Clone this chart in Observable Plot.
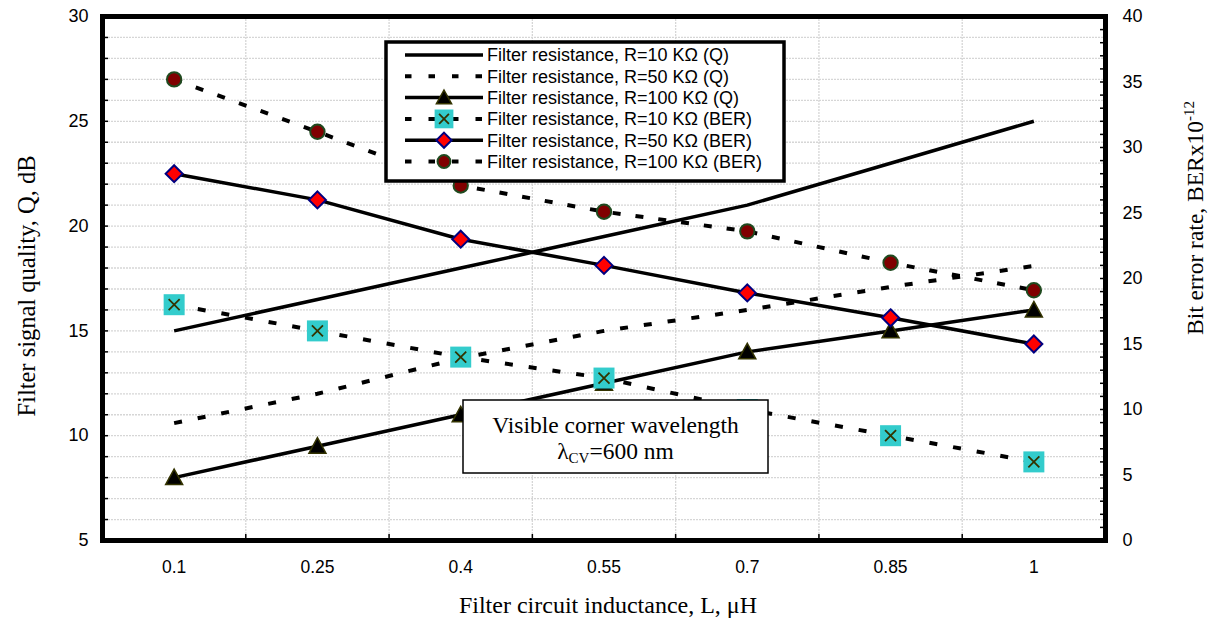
<!DOCTYPE html>
<html><head><meta charset="utf-8">
<script src="https://cdn.jsdelivr.net/npm/d3@7"></script>
<script src="https://cdn.jsdelivr.net/npm/@observablehq/plot@0.6"></script>
<style>body{margin:0;background:#fff}#chart{width:1212px;height:620px}</style>
</head><body><div id="chart"></div>
<script>
// ---- data ----
const inductance = ["0.1", "0.25", "0.4", "0.55", "0.7", "0.85", "1"];
const qR10 = [15, 16.5, 18, 19.5, 21, 23, 25];
const qR50 = [10.6, 12.0, 13.7, 15.0, 16.0, 17.1, 18.1];
const qR100 = [8, 9.5, 11, 12.5, 14, 15, 16];
const berR10 = [18, 16, 14, 12.4, 10, 8, 6];
const berR50 = [28, 26, 23, 21, 18.9, 17, 15];
const berR100 = [35.2, 31.2, 27.1, 25.1, 23.6, 21.2, 19.1];
const qTicks = [5, 10, 15, 20, 25, 30];
const berTicks = [0, 5, 10, 15, 20, 25, 30, 35, 40];
const seriesNames = [
  "Filter resistance, R=10 KΩ (Q)",
  "Filter resistance, R=50 KΩ (Q)",
  "Filter resistance, R=100 KΩ (Q)",
  "Filter resistance, R=10 KΩ (BER)",
  "Filter resistance, R=50 KΩ (BER)",
  "Filter resistance, R=100 KΩ (BER)"
];
const xTitle = "Filter circuit inductance, L, μH";
const yTitle = "Filter signal quality, Q, dB";
const y2Title = "Bit error rate, BERx10";
const y2Sup = "-12";
const noteLine1 = "Visible corner wavelength";
const noteLambda = "λ", noteSub = "CV", noteRest = "=600 nm";

// secondary axis (BER 0..40) mapped onto primary (Q 5..30)
const Q0 = 5, Q1 = 30, B0 = 0, B1 = 40;
const toQ = b => Q0 + (b - B0) * (Q1 - Q0) / (B1 - B0);
const pts = (vals, conv = v => v) => vals.map((v, i) => ({i, y: conv(v)}));

// custom symbols (size = PI r^2)
const rad = s => Math.sqrt(s / Math.PI);
const symTri = {draw(c, s) { const r = rad(s); c.moveTo(0, -r); c.lineTo(r, r * 0.82); c.lineTo(-r, r * 0.82); c.closePath(); }};
const symDia = {draw(c, s) { const r = rad(s); c.moveTo(0, -r); c.lineTo(r, 0); c.lineTo(0, r); c.lineTo(-r, 0); c.closePath(); }};
const symSq = {draw(c, s) { const r = rad(s); c.rect(-r, -r, 2 * r, 2 * r); }};
const symX = {draw(c, s) { const r = rad(s); c.moveTo(-r, -r); c.lineTo(r, r); c.moveTo(r, -r); c.lineTo(-r, r); }};
const symCirc = {draw(c, s) { const r = rad(s); c.moveTo(r, 0); c.arc(0, 0, r, 0, 2 * Math.PI); }};

const markerStyles = {
  tri: [{symbol: symTri, r: 8.5, fill: "#000", stroke: "#333300", strokeWidth: 1.5}],
  sqx: [{symbol: symSq, r: 10.5, fill: "#33cccc", stroke: "none"},
        {symbol: symX, r: 5.5, fill: "none", stroke: "#333300", strokeWidth: 1.8}],
  dia: [{symbol: symDia, r: 8.5, fill: "#ff0000", stroke: "#000080", strokeWidth: 2}],
  circ: [{symbol: symCirc, r: 7.2, fill: "#800000", stroke: "#1f4a1f", strokeWidth: 2}]
};

const series = [
  {data: pts(qR10), dash: null, width: 3.5, marker: null},
  {data: pts(qR50), dash: "8,16", width: 4, marker: null},
  {data: pts(qR100), dash: null, width: 3.5, marker: "tri"},
  {data: pts(berR10, toQ), dash: "8,16", width: 4, marker: "sqx"},
  {data: pts(berR50, toQ), dash: null, width: 3.5, marker: "dia"},
  {data: pts(berR100, toQ), dash: "8,15", width: 4, marker: "circ"}
];

const marks = [
  Plot.ruleY(d3.range(Q0 + 1, Q1), {stroke: "#d6d6d6", strokeWidth: 1.3, strokeDasharray: "2,1"}),
  Plot.ruleX(d3.range(0.5, inductance.length - 1, 1), {stroke: "#d6d6d6", strokeWidth: 1.3, strokeDasharray: "2,1"}),
];
for (const s of series) {
  marks.push(Plot.line(s.data, {x: "i", y: "y", stroke: "#000", strokeWidth: s.width,
    strokeDasharray: s.dash, strokeLinecap: "butt", strokeLinejoin: "round"}));
  if (s.marker) for (const m of markerStyles[s.marker]) marks.push(Plot.dot(s.data, {x: "i", y: "y", ...m}));
}
marks.push(
  // inner ticks
  Plot.axisY({anchor: "left", ticks: d3.range(Q0, Q1 + 1), tickSize: -6, text: null, label: null, strokeWidth: 1.5}),
  Plot.axisY({anchor: "right", ticks: d3.range(B0, B1 + 1).map(toQ), tickSize: -6, text: null, label: null, strokeWidth: 1.5}),
  Plot.axisX({anchor: "bottom", ticks: d3.range(0.5, inductance.length - 1, 1), tickSize: -6, text: null, label: null, strokeWidth: 1.5}),
  // labels
  Plot.axisY({anchor: "left", ticks: qTicks, tickSize: 0, tickPadding: 14, label: null, fontSize: 18}),
  Plot.axisY({anchor: "right", ticks: berTicks.map(toQ), tickFormat: q => String(Math.round(B0 + (q - Q0) * (B1 - B0) / (Q1 - Q0))), tickSize: 0, tickPadding: 17, label: null, fontSize: 18}),
  Plot.axisX({anchor: "bottom", ticks: d3.range(inductance.length), tickFormat: i => inductance[i], tickSize: 0, tickPadding: 20, label: null, fontSize: 17.5}),
  Plot.frame({stroke: "#000", strokeWidth: 5})
);

const plot = Plot.plot({
  width: 1212, height: 620,
  marginLeft: 102, marginRight: 107, marginTop: 16, marginBottom: 80,
  x: {type: "linear", domain: [-0.5, inductance.length - 0.5]},
  y: {domain: [Q0, Q1]},
  style: {fontFamily: "'Liberation Sans', Arial, sans-serif", fontSize: "17px", background: "#fff", color: "#000"},
  marks
});
document.getElementById("chart").append(plot);

// ---- overlays: legend, note, titles ----
const svg = d3.select(plot);
const serif = "'Liberation Serif', 'Times New Roman', serif";

const lg = svg.append("g");
lg.append("rect").attr("x", 386).attr("y", 42).attr("width", 398).attr("height", 139)
  .attr("fill", "#fff").attr("stroke", "#000").attr("stroke-width", 3.5);
seriesNames.forEach((name, k) => {
  const y = 55 + k * 21.3, s = series[k];
  lg.append("line").attr("x1", 405).attr("x2", 483).attr("y1", y).attr("y2", y)
    .attr("stroke", "#000").attr("stroke-width", s.dash ? 4 : 3.5)
    .attr("stroke-dasharray", s.dash ? "6.5,17" : null);
  if (s.marker) for (const m of markerStyles[s.marker]) {
    const p = d3.path(); m.symbol.draw(p, Math.PI * m.r * m.r * 0.8);
    lg.append("path").attr("d", p.toString()).attr("transform", `translate(444,${y})`)
      .attr("fill", m.fill).attr("stroke", m.stroke).attr("stroke-width", m.strokeWidth || 0);
  }
  lg.append("text").attr("x", 487).attr("y", y).attr("dy", "0.35em").attr("text-anchor", "start")
    .attr("font-family", "'Liberation Sans', Arial, sans-serif").attr("font-size", 18).text(name);
});

const note = svg.append("g");
note.append("rect").attr("x", 463).attr("y", 400).attr("width", 305).attr("height", 73)
  .attr("fill", "#fff").attr("stroke", "#000").attr("stroke-width", 1.5);
note.append("text").attr("x", 615.5).attr("y", 433).attr("text-anchor", "middle")
  .attr("font-family", serif).attr("font-size", 23.5).text(noteLine1);
const t2 = note.append("text").attr("x", 615.5).attr("y", 459).attr("text-anchor", "middle")
  .attr("font-family", serif).attr("font-size", 23.5);
t2.append("tspan").text(noteLambda);
t2.append("tspan").attr("font-size", 15).attr("dy", 4).text(noteSub);
t2.append("tspan").attr("dy", -4).text(noteRest);

svg.append("text").attr("x", 608).attr("y", 613).attr("text-anchor", "middle")
  .attr("font-family", serif).attr("font-size", 24).text(xTitle);
svg.append("text").attr("transform", "translate(35,286) rotate(-90)").attr("text-anchor", "middle")
  .attr("font-family", serif).attr("font-size", 24.5).text(yTitle);
const rt = svg.append("text").attr("transform", "translate(1203,218) rotate(-90)").attr("text-anchor", "middle")
  .attr("font-family", serif).attr("font-size", 23.5);
rt.append("tspan").text(y2Title);
rt.append("tspan").attr("font-size", 15).attr("dy", -9).text(y2Sup);
</script>
</body></html>
